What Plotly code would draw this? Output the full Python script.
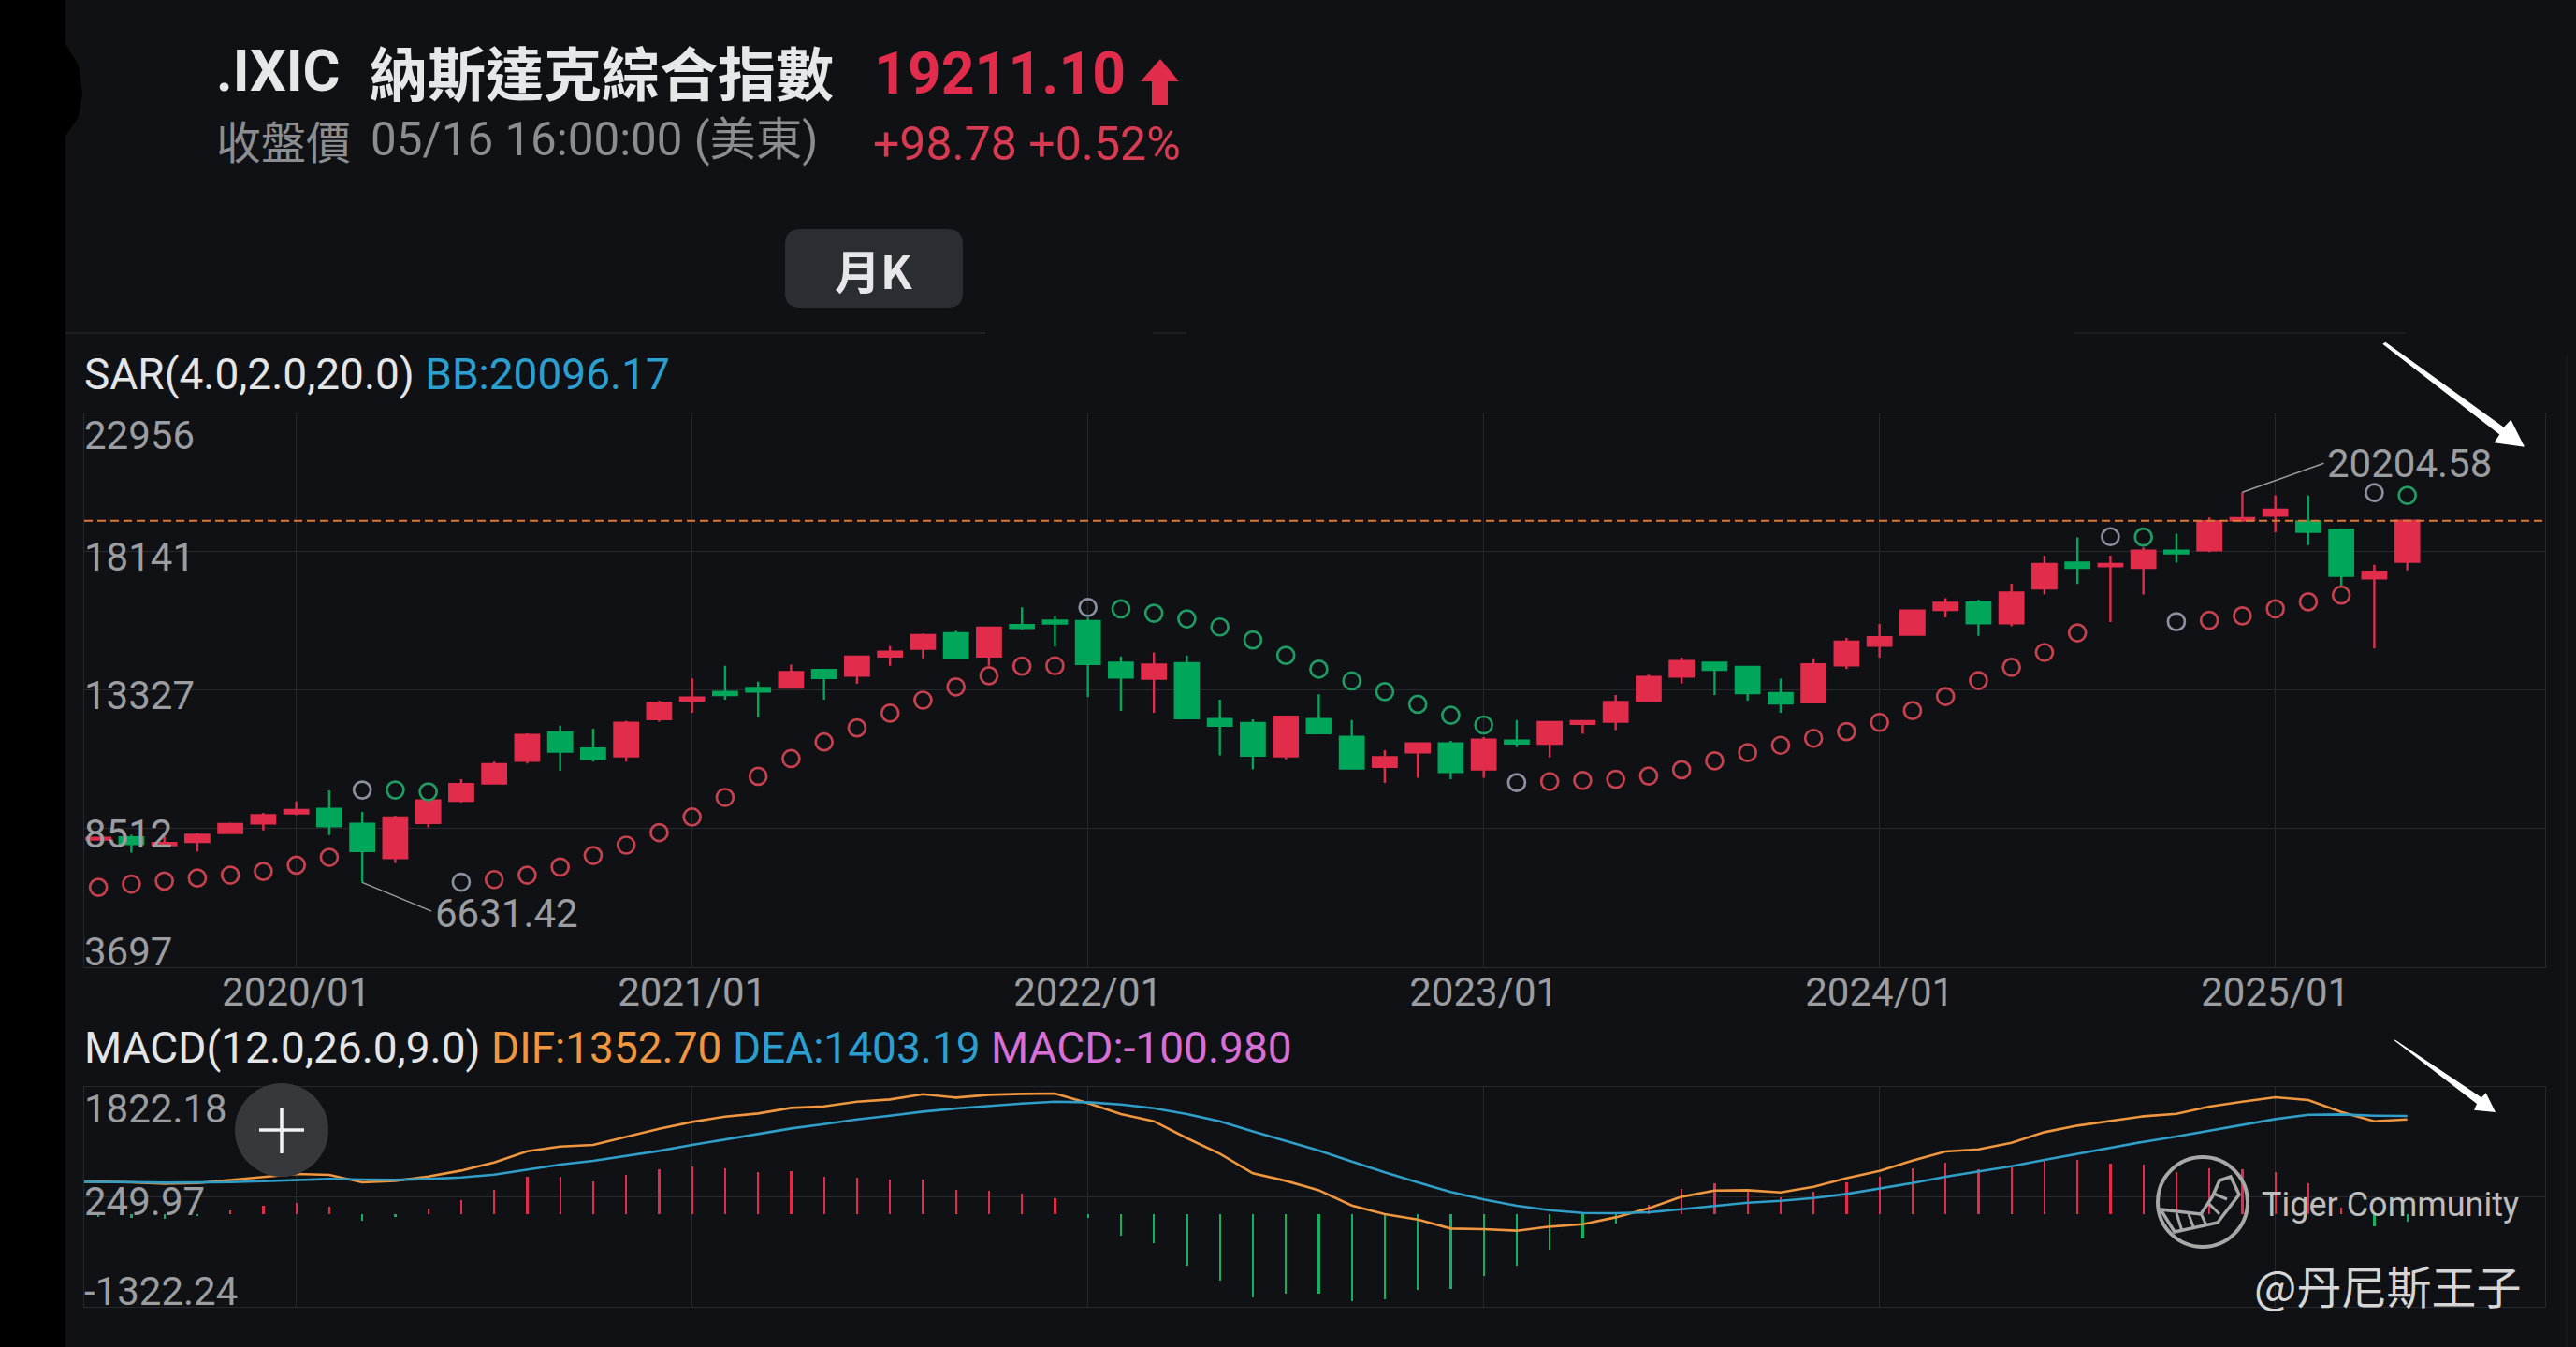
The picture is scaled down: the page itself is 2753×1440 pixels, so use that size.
import pandas as pd
import plotly.graph_objects as go

W, H = 2753, 1440

# Monthly bars, 2019/07 to 2025/05
months = list(pd.date_range("2019-07-01", periods=71, freq="MS").strftime("%Y/%m"))
# the MACD lines run in from one month before the first bar
line_months = ["2019/06"] + months
year_ticks = ["2020/01", "2021/01", "2022/01", "2023/01", "2024/01", "2025/01"]

opens = [8123, 8200, 7930, 8046, 8355, 8689, 9036, 9191, 8676, 7480,
         8702, 9474, 10079, 10863, 11854, 11288, 11018, 12317, 12960, 13256,
         13398, 13411, 14028, 13822, 14491, 14761, 15302, 14491, 15585, 15739,
         15726, 14273, 13719, 14260, 12317, 12176, 11018, 12317, 11700, 10657,
         11159, 11468, 10567, 11571, 11455, 12150, 12227, 12947, 13797, 14273,
         14131, 13218, 12896, 14182, 14864, 15250, 16112, 16370, 15649, 16858,
         17759, 17630, 17579, 18171, 18184, 19226, 19393, 19187, 18904, 17206,
         17785]
highs = [8226, 8290, 8226, 8342, 8715, 9049, 9448, 9834, 9088, 8959,
         9512, 10220, 10838, 11815, 12085, 11983, 12253, 12960, 13732, 14170,
         13616, 14208, 14040, 14517, 14851, 15289, 15392, 15510, 16202, 15894,
         15842, 14491, 14633, 14530, 12986, 12304, 12433, 13179, 12278, 11236,
         11494, 11558, 11687, 12278, 12240, 12266, 13153, 13861, 14453, 14311,
         14150, 13719, 14427, 15134, 15623, 16125, 16524, 16460, 17026, 18003,
         18634, 18003, 18286, 18762, 19328, 20204.58, 20100, 20088, 18955, 17682,
         19260]
lows = [8097, 7673, 7917, 7711, 8342, 8445, 8972, 8277, 6631.42, 7313,
        8548, 9410, 10066, 10773, 10516, 10838, 10838, 12227, 12536, 12986,
        12381, 13398, 12986, 13539, 14170, 14427, 14440, 14170, 15430, 14839,
        13089, 12600, 12536, 12317, 11056, 10567, 10915, 11802, 10580, 10091,
        10272, 10220, 10272, 11339, 10979, 11802, 11931, 12909, 13552, 13153,
        12960, 12536, 12883, 14054, 14453, 15212, 15855, 15212, 15546, 16653,
        17013, 15688, 16653, 17759, 18119, 19174, 18814, 18364, 16936, 14774,
        17489]
closes = [8187, 7969, 8007, 8290, 8663, 8972, 9152, 8586, 7724, 8895,
          9487, 10053, 10748, 11764, 11185, 10928, 12188, 12883, 13063, 13153,
          13269, 13951, 13745, 14491, 14658, 15237, 14453, 15495, 15482, 15636,
          14234, 13758, 14208, 12343, 12085, 11043, 12394, 11828, 10593, 10992,
          11468, 10477, 11597, 11468, 12214, 12240, 12909, 13784, 14337, 14028,
          13218, 12857, 14221, 15006, 15160, 16087, 16357, 15649, 16717, 17708,
          17579, 17708, 18171, 18081, 19200, 19303, 19599, 18827, 17296, 17437,
          19211.10]

sar = [6464, 6579, 6682, 6785, 6888, 7017, 7235, 7506, 9847, 9847,
       9783, 6644, 6734, 6888, 7171, 7570, 7930, 8368, 8908, 9590,
       10323, 10941, 11519, 12008, 12523, 12973, 13436, 13822, 14157, 14170,
       16202, 16151, 15996, 15803, 15520, 15070, 14530, 14054, 13642, 13269,
       12832, 12446, 12111, 10104, 10143, 10182, 10220, 10336, 10555, 10863,
       11146, 11404, 11648, 11880, 12201, 12613, 13102, 13655, 14118, 14633,
       15315, 18660, 18647, 15701, 15752, 15906, 16151, 16395, 16627, 20190,
       20096.17]
# where the SAR flips it is drawn grey, above the price it is green
sar_flips = ["2020/03", "2020/06", "2022/01", "2023/02", "2024/08", "2024/10", "2025/04"]
sar_above = ["2020/04", "2020/05", "2022/02", "2022/03", "2022/04", "2022/05", "2022/06",
             "2022/07", "2022/08", "2022/09", "2022/10", "2022/11", "2022/12", "2023/01",
             "2024/09", "2025/05"]

dif = [458, 462, 453, 435, 444, 489, 529, 573, 560, 453, 475,
       538, 622, 738, 899, 966, 988, 1100, 1220, 1318, 1394,
       1439, 1519, 1541, 1608, 1639, 1715, 1666, 1706, 1720, 1724,
       1586, 1430, 1327, 1086, 863, 582, 475, 341, 123, -2,
       -78, -207, -216, -238, -180, -145, -47, 83, 248, 337,
       341, 310, 390, 515, 618, 765, 894, 926, 1019, 1171,
       1265, 1331, 1398, 1434, 1537, 1608, 1670, 1630, 1461, 1327,
       1352.70]
dea = [460, 462, 457, 448, 448, 457, 471, 489, 502, 493, 489,
       502, 524, 564, 640, 707, 761, 828, 903, 988, 1068,
       1144, 1224, 1287, 1354, 1407, 1465, 1510, 1550, 1581, 1608,
       1599, 1568, 1514, 1430, 1327, 1184, 1042, 908, 752, 596,
       453, 315, 208, 118, 56, 16, 11, 25, 69, 118,
       163, 190, 230, 288, 364, 444, 533, 605, 685, 774,
       863, 952, 1033, 1109, 1189, 1274, 1358, 1421, 1425, 1407,
       1403.19]
macd = [-42, -51, -60, -28, 61, 119, 168, 105, -95, -42,
        83, 203, 346, 538, 538, 471, 560, 649, 685, 663,
        609, 614, 538, 529, 493, 502, 346, 337, 293, 235,
        -55, -305, -417, -733, -947, -1188, -1135, -1130, -1242, -1210,
        -1081, -1072, -885, -738, -510, -345, -136, 141, 359, 440,
        351, 239, 328, 458, 538, 663, 739, 649, 672, 765,
        774, 730, 707, 609, 663, 640, 609, 440, 92, -176,
        -100.98]

price_ticks = [22956, 18141, 13327, 8512, 3697]
macd_ticks = [1822.18, 249.97, -1322.24]
last_price = 19211.10

RED = "#e12d4b"
GREEN = "#00a65a"
GREY_TXT = "#9b9da1"
BLUE = "#2a9fd0"
ORANGE = "#f0963f"
PINK = "#d86fd6"
GRID = "#28292d"
BG = "#0f1114"
SANS = "Roboto, 'Noto Sans CJK TC'"
CJK = "'Noto Sans CJK TC'"


# reference pixels to paper fractions, for everything that is not data
def px(x):
    return x / W


def py(y):
    return 1 - y / H


def poly(points, close=True):
    path = "M " + " L ".join(f"{px(x):.5f},{py(y):.5f}" for x, y in points)
    return path + (" Z" if close else "")


fig = go.Figure()

fig.add_trace(go.Candlestick(
    x=months, open=opens, high=highs, low=lows, close=closes,
    xaxis="x", yaxis="y", whiskerwidth=0,
    increasing=dict(line=dict(color=RED, width=2.4), fillcolor=RED),
    decreasing=dict(line=dict(color=GREEN, width=2.4), fillcolor=GREEN),
    showlegend=False, hoverinfo="skip"))

sar_colors = ["#8b91a1" if m in sar_flips else "#1f9c62" if m in sar_above else "#c8414f"
              for m in months]
fig.add_trace(go.Scatter(
    x=months, y=sar, mode="markers", xaxis="x", yaxis="y",
    marker=dict(symbol="circle-open", size=18, color=sar_colors, line=dict(width=2.7)),
    showlegend=False, hoverinfo="skip"))

# MACD pane
fig.add_trace(go.Bar(
    x=months, y=macd, width=0.065, xaxis="x2", yaxis="y2",
    marker=dict(color=[RED if v > 0 else "#12b061" for v in macd], line=dict(width=0)),
    showlegend=False, hoverinfo="skip"))
fig.add_trace(go.Scatter(
    x=line_months, y=dif, mode="lines", xaxis="x2", yaxis="y2",
    line=dict(color=ORANGE, width=2.6), showlegend=False, hoverinfo="skip"))
fig.add_trace(go.Scatter(
    x=line_months, y=dea, mode="lines", xaxis="x2", yaxis="y2",
    line=dict(color="#2f9fca", width=2.6), showlegend=False, hoverinfo="skip"))

x_range = [0.57, 75.18]
axis_style = dict(type="category", categoryorder="array", categoryarray=line_months, range=x_range,
                  tickmode="array", tickvals=year_ticks, showgrid=True, gridcolor=GRID, gridwidth=1.4,
                  showline=True, linecolor=GRID, linewidth=1.4, mirror=True, zeroline=False,
                  rangeslider=dict(visible=False), domain=[px(90), px(2720)])
fig.update_layout(
    width=W, height=H, autosize=False,
    margin=dict(l=0, r=0, t=0, b=0),
    paper_bgcolor=BG, plot_bgcolor=BG,
    font=dict(family=SANS, color=GREY_TXT),
    boxgap=0.28, boxgroupgap=0, bargap=0, dragmode=False,
    xaxis=dict(anchor="y", showticklabels=True, ticks="", ticklabelstandoff=-10,
               tickfont=dict(family=SANS, size=42, color=GREY_TXT), **axis_style),
    xaxis2=dict(anchor="y2", showticklabels=False, ticks="", **axis_style),
    yaxis=dict(anchor="x", domain=[py(1033.6), py(441.7)], range=[price_ticks[-1], price_ticks[0]],
               tickmode="array", tickvals=price_ticks, showticklabels=False, ticks="",
               showgrid=True, gridcolor=GRID, gridwidth=1.4, zeroline=False,
               showline=True, linecolor=GRID, linewidth=1.4, mirror=True),
    yaxis2=dict(anchor="x2", domain=[py(1396.7), py(1161.7)], range=[macd_ticks[-1], macd_ticks[0]],
                tickmode="array", tickvals=macd_ticks, showticklabels=False, ticks="",
                showgrid=True, gridcolor=GRID, gridwidth=1.4, zeroline=False,
                showline=True, linecolor=GRID, linewidth=1.4, mirror=True),
)


def text(x, y, s, size, color, family=SANS, anchor="left"):
    fig.add_annotation(xref="paper", yref="paper", x=px(x), y=py(y), text=s, showarrow=False,
                       xanchor=anchor, yanchor="middle",
                       font=dict(family=family, size=size, color=color))


# Header
text(229, 76, "<b>.IXIC</b>", 61, "#e6e7e9")
text(393, 76, "<b>納斯達克綜合指數</b>", 62, "#e6e7e9", CJK)
text(932, 78, f"<b>{last_price:.2f}</b>", 62.5, RED)
text(229, 149, "收盤價", 48, "#8b8d91", CJK)
text(394, 149, "05/16 16:00:00 (美東)", 49.3, "#8b8d91")
text(931, 154, "+98.78 +0.52%", 50, "#d83a52")
text(933, 287, "<b>月K</b>", 49, "#e6e7e9", CJK, "center")

# Indicator legends
text(88, 400, f'SAR(4.0,2.0,20.0) <span style="color:{BLUE}">BB:{sar[-1]:.2f}</span>', 46, "#e4e5e7")
text(88, 1120, f'MACD(12.0,26.0,9.0) <span style="color:{ORANGE}">DIF:{dif[-1]:.2f}</span> '
               f'<span style="color:{BLUE}">DEA:{dea[-1]:.2f}</span> '
               f'<span style="color:{PINK}">MACD:{macd[-1]:.3f}</span>', 46, "#e4e5e7")

# Axis labels sit inside the panes, against the left edge
for value, shift in zip(price_ticks, [-24, -5.5, -5.5, -5.5, 16]):
    fig.add_annotation(xref="paper", yref="y", x=px(88), y=value, text=str(value), showarrow=False,
                       xanchor="left", yanchor="middle", yshift=shift,
                       font=dict(family=SANS, size=42, color=GREY_TXT))
for value, shift in zip(macd_ticks, [-24, -5, 16]):
    fig.add_annotation(xref="paper", yref="y2", x=px(88), y=value, text=f"{value:.2f}", showarrow=False,
                       xanchor="left", yanchor="middle", yshift=shift,
                       font=dict(family=SANS, size=42, color=GREY_TXT))

# High and low callouts
low_month = months[lows.index(min(lows))]
high_month = months[highs.index(max(highs))]
for month, value, ax, ay, shift in [(low_month, min(lows), 77, 32, -33), (high_month, max(highs), 90, -32, 31)]:
    fig.add_annotation(x=month, y=value, xref="x", yref="y", ax=ax, ay=ay, axref="pixel", ayref="pixel",
                       showarrow=True, arrowhead=0, arrowwidth=1.5, arrowcolor=GREY_TXT, standoff=0)
    fig.add_annotation(x=month, y=value, xref="x", yref="y", text=f"{value:.2f}", showarrow=False,
                       xanchor="left", yanchor="middle", xshift=ax - 1, yshift=shift,
                       font=dict(family=SANS, size=42, color=GREY_TXT))

# Watermarks
text(2415, 1288, "Tiger Community", 36, "#bdbdbd")
text(2407, 1373, "@丹尼斯王子", 48, "#d6d6d6", CJK)

shapes = [
    # black strip on the left and the notch in it
    dict(type="rect", xref="paper", yref="paper", x0=0, x1=px(70), y0=0, y1=1, fillcolor="#000000",
         line_width=0, layer="below"),
    dict(type="path", xref="paper", yref="paper", fillcolor="#000000", line_width=0, layer="below",
         path=poly([(70, 47), (84, 70), (88, 100), (84, 125), (70, 145)])),
    # faint dividers
    dict(type="line", xref="paper", yref="paper", x0=px(70), x1=px(1053), y0=py(356), y1=py(356),
         line=dict(color="#1d1f23", width=2)),
    dict(type="line", xref="paper", yref="paper", x0=px(1232), x1=px(1268), y0=py(356), y1=py(356),
         line=dict(color="#1d1f23", width=2)),
    dict(type="line", xref="paper", yref="paper", x0=px(2216), x1=px(2571), y0=py(356), y1=py(356),
         line=dict(color="#1a1c20", width=2)),
    dict(type="line", xref="paper", yref="paper", x0=px(2743), x1=px(2743), y0=py(380), y1=0,
         line=dict(color="#16181b", width=2)),
    # last price line
    dict(type="line", xref="x domain", yref="y", x0=0, x1=1, y0=last_price, y1=last_price,
         line=dict(color="#d9793a", width=2, dash="9px,5px")),
    # red arrow next to the price
    dict(type="path", xref="paper", yref="paper", fillcolor=RED, line_width=0,
         path=poly([(1240, 63), (1260, 87), (1248, 87), (1248, 112), (1231, 112), (1231, 87), (1219, 87)])),
    # period button
    dict(type="path", xref="paper", yref="paper", fillcolor="#2a2d32", line_width=0, layer="below",
         path=(f"M {px(855)},{py(245)} L {px(1013)},{py(245)} Q {px(1029)},{py(245)} {px(1029)},{py(261)} "
               f"L {px(1029)},{py(313)} Q {px(1029)},{py(329)} {px(1013)},{py(329)} "
               f"L {px(855)},{py(329)} Q {px(839)},{py(329)} {px(839)},{py(313)} "
               f"L {px(839)},{py(261)} Q {px(839)},{py(245)} {px(855)},{py(245)} Z")),
    # plus button
    dict(type="circle", xref="paper", yref="paper", x0=px(251), x1=px(351), y0=py(1258), y1=py(1158),
         fillcolor="#36383b", line_width=0),
    dict(type="line", xref="paper", yref="paper", x0=px(277), x1=px(325), y0=py(1208), y1=py(1208),
         line=dict(color="#f2f2f2", width=3.5)),
    dict(type="line", xref="paper", yref="paper", x0=px(301), x1=px(301), y0=py(1184), y1=py(1233),
         line=dict(color="#f2f2f2", width=3.5)),
    # white hand-drawn arrows
    dict(type="path", xref="paper", yref="paper", fillcolor="#ffffff", line_width=0,
         path=poly([(2546.3, 367.8), (2549.4, 365.8), (2675.8, 456.7), (2683.4, 448.8), (2698, 477.7),
                    (2665.5, 473.3), (2671.3, 464.6)])),
    dict(type="path", xref="paper", yref="paper", fillcolor="#ffffff", line_width=0,
         path=poly([(2558, 1111.7), (2560, 1111.7), (2652, 1173.3), (2656.7, 1168.3), (2667, 1189),
                    (2644, 1186.7), (2647, 1180)])),
    # tiger logo: ring, crescent, stripes
    dict(type="circle", xref="paper", yref="paper", x0=px(2306), x1=px(2402), y0=py(1333), y1=py(1237),
         line=dict(color="#a8a8a8", width=4)),
    dict(type="path", xref="paper", yref="paper", line=dict(color="#a8a8a8", width=3.5),
         path=poly([(2384, 1258), (2393, 1277), (2370, 1307), (2324, 1317), (2309, 1293), (2352, 1298),
                    (2364, 1280), (2372, 1262)])),
]
for x0, y0, x1, y1 in [(2326, 1297, 2332, 1316), (2339, 1298, 2345, 1314), (2352, 1297, 2358, 1310),
                       (2361, 1287, 2372, 1298), (2366, 1276, 2380, 1282)]:
    shapes.append(dict(type="line", xref="paper", yref="paper", x0=px(x0), x1=px(x1), y0=py(y0), y1=py(y1),
                       line=dict(color="#a8a8a8", width=3)))
fig.update_layout(shapes=shapes)

fig.write_html("out.html", config={"displayModeBar": False}, post_script="document.body.style.margin='0';")
